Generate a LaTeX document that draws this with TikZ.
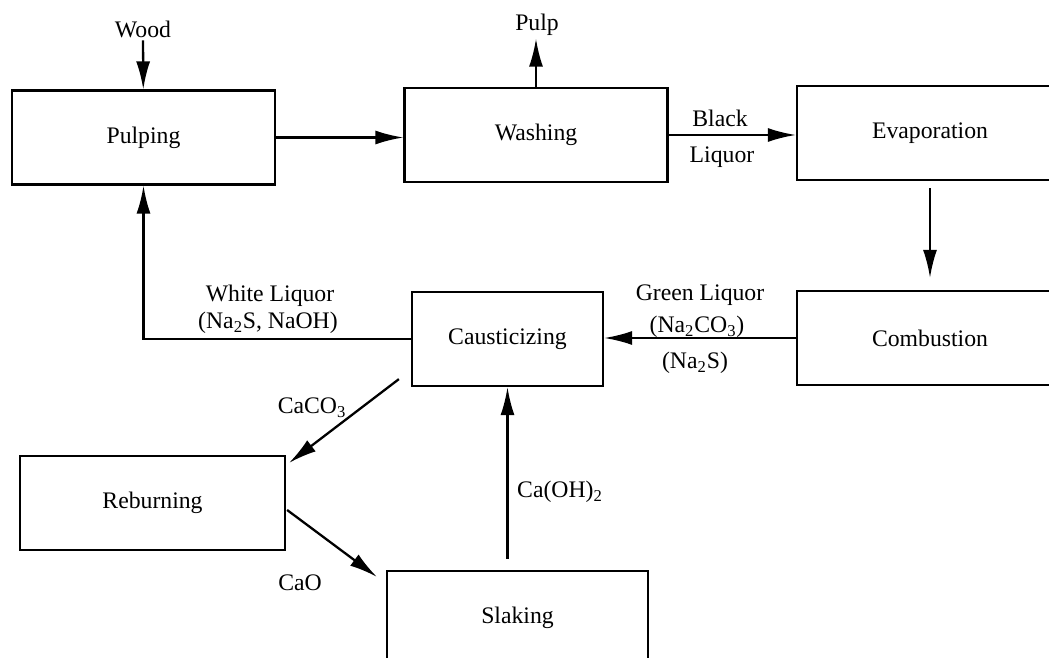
\documentclass[tikz,border=0pt]{standalone}
\usepackage{fontspec}
\setmainfont{Liberation Serif}
\usetikzlibrary{arrows.meta,calc}

\begin{document}
\begin{tikzpicture}[
  x=0.02cm, y=-0.02cm,
  >={Latex[length=0.56cm,width=0.28cm]},
  line width=1.3pt,
  every node/.style={font=\fontsize{13.5}{15}\selectfont},
  unit/.style={draw, minimum width=5.26cm, minimum height=1.88cm, inner sep=0pt},
  tag/.style={inner sep=1pt}
]
\useasboundingbox (0,0) rectangle (1049,658);
\clip (0,0) rectangle (1049,658);

% process units
\node[unit] (pulping) at (143.5,137.5) {Pulping};
\node[unit] (washing) at (536,135) {Washing};
\node[unit, minimum width=5.32cm] (evap) at (930,133) {Evaporation};
\node[unit, minimum width=5.32cm] (comb) at (930,338) {Combustion};
\node[unit, minimum width=3.82cm] (caust) at (507.5,339) {Causticizing};
\node[unit, minimum width=5.3cm] (reburn) at (152.5,503) {Reburning};
\node[unit, minimum width=5.22cm] (slaking) at (517.5,618) {Slaking};

% stream labels
\node[tag] (wood) at (143,29) {Wood};
\node[tag] (pulp) at (537,25) {Pulp};
\node[tag] (black) at (720,118) {Black};
\node[tag] (liquor) at (722,157) {Liquor};
\node[tag] (green) at (700,295) {Green Liquor};
\node[tag] (greenA) at (697,327) {(Na\textsubscript{2}CO\textsubscript{3})};
\node[tag] (greenB) at (695,363) {(Na\textsubscript{2}S)};
\node[tag] (white) at (270,296) {White Liquor};
\node[tag] (whiteA) at (268,323) {(Na\textsubscript{2}S, NaOH)};
\node[tag] (caco) at (312,408) {CaCO\textsubscript{3}};
\node[tag] (cao) at (300,583) {CaO};
\node[tag] (caoh) at (560,492) {Ca(OH)\textsubscript{2}};

% streams
\draw[->] (wood) -- (pulping);
\draw[->] (pulping.east) -- (pulping.east -| washing.west);
\draw[->] (washing.north) -- (washing.north |- pulp.south);
\draw[->] (washing.east) -- (washing.east -| evap.west);
\draw[->, shorten <=0.14cm, shorten >=0.24cm] (evap) -- (comb);
\draw[->] (comb.west) -- (comb.west -| caust.east);
\draw[->] (caust.west) -| (pulping.south);
\draw[->] ($(caust.south west)+(-12,-8)$) -- ($(reburn.north east)+(3,8)$);
\draw[->] ($(reburn.east)+(1,7)$) -- ($(slaking.north west)+(-9,7)$);
\draw[->, shorten <=0.22cm] (slaking.north -| caust.south) -- (caust.south);
\end{tikzpicture}
\end{document}
